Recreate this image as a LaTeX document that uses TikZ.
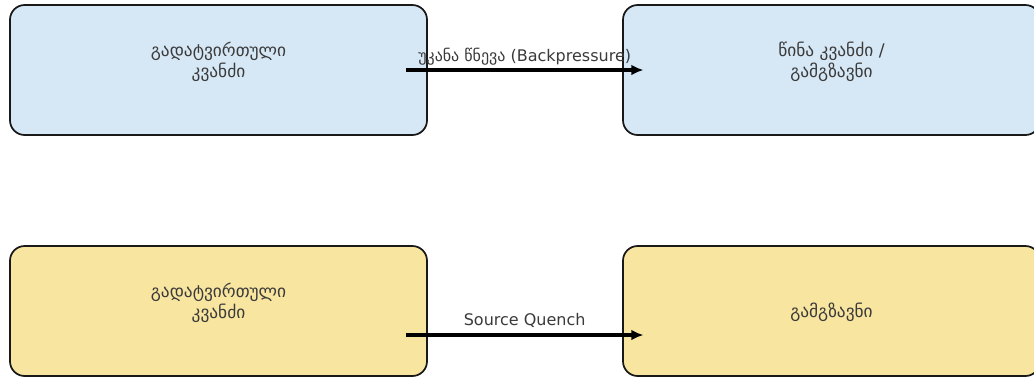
\documentclass[tikz,border=0pt]{standalone}
\usepackage{fontspec}
\setmainfont{DejaVu Sans}
\usepackage{xcolor}
\usepackage{tikz}
\usetikzlibrary{arrows.meta}
\usetikzlibrary{positioning}
\usetikzlibrary{calc}
\definecolor{nodeblue}{HTML}{D6E8F6}
\definecolor{nodeyellow}{HTML}{F8E59F}
\definecolor{labelgray}{HTML}{3A3A3A}
\tikzset{
    router/.style={draw=black!90, line width=1.3pt, rounded corners=11pt,
        minimum width=312.75pt, minimum height=97.5pt, inner sep=0pt},
    routerblue/.style={router, fill=nodeblue},
    routeryellow/.style={router, fill=nodeyellow},
    routertext/.style={text=labelgray, align=center,
        font=\fontsize{13}{15.75}\selectfont},
    signal/.style={draw=black, line width=2.4pt, -{Latex[length=9pt,width=8pt]}},
    signaltext/.style={text=labelgray, font=\fontsize{12}{14}\selectfont},
}

\begin{document}
\begin{tikzpicture}[x=0.75pt, y=-0.75pt]
	\useasboundingbox (0,0) rectangle (1034,376);
	% backpressure
	\node[routerblue] (busy1) at (218.5,70) {};
	\node[routerblue] (prev) at (831.5,70) {};
	\node[routertext] (busy1txt) at ([yshift=6.4pt]busy1.center) {გადატვირთული\\კვანძი};
	\node[routertext] (prevtxt) at ([yshift=6.4pt]prev.center) {წინა კვანძი /\\გამგზავნი};
	\coordinate (bpfrom) at ([xshift=-16.5pt]busy1.east);
	\coordinate (bpto) at ([xshift=16pt]prev.west);
	\draw[signal] (bpfrom) -- (bpto);
	\node[signaltext] (bplabel) at ($(bpfrom)!0.5!(bpto)+(0,-13)$) {უკანა წნევა (Backpressure)};
	% source quench
	\node[routeryellow] (busy2) at (218.5,311) {};
	\node[routeryellow] (sender) at (831.5,311) {};
	\node[routertext] (busy2txt) at ([yshift=6.4pt]busy2.center) {გადატვირთული\\კვანძი};
	\node[routertext] (sendertxt) at ([yshift=-1.2pt]sender.center) {გამგზავნი};
	\coordinate (sqfrom) at ([xshift=-16.5pt,yshift=-18pt]busy2.east);
	\coordinate (sqto) at ([xshift=16pt,yshift=-18pt]sender.west);
	\draw[signal] (sqfrom) -- (sqto);
	\node[signaltext] (sqlabel) at ($(sqfrom)!0.5!(sqto)+(0,-15)$) {Source Quench};
\end{tikzpicture}
\end{document}
